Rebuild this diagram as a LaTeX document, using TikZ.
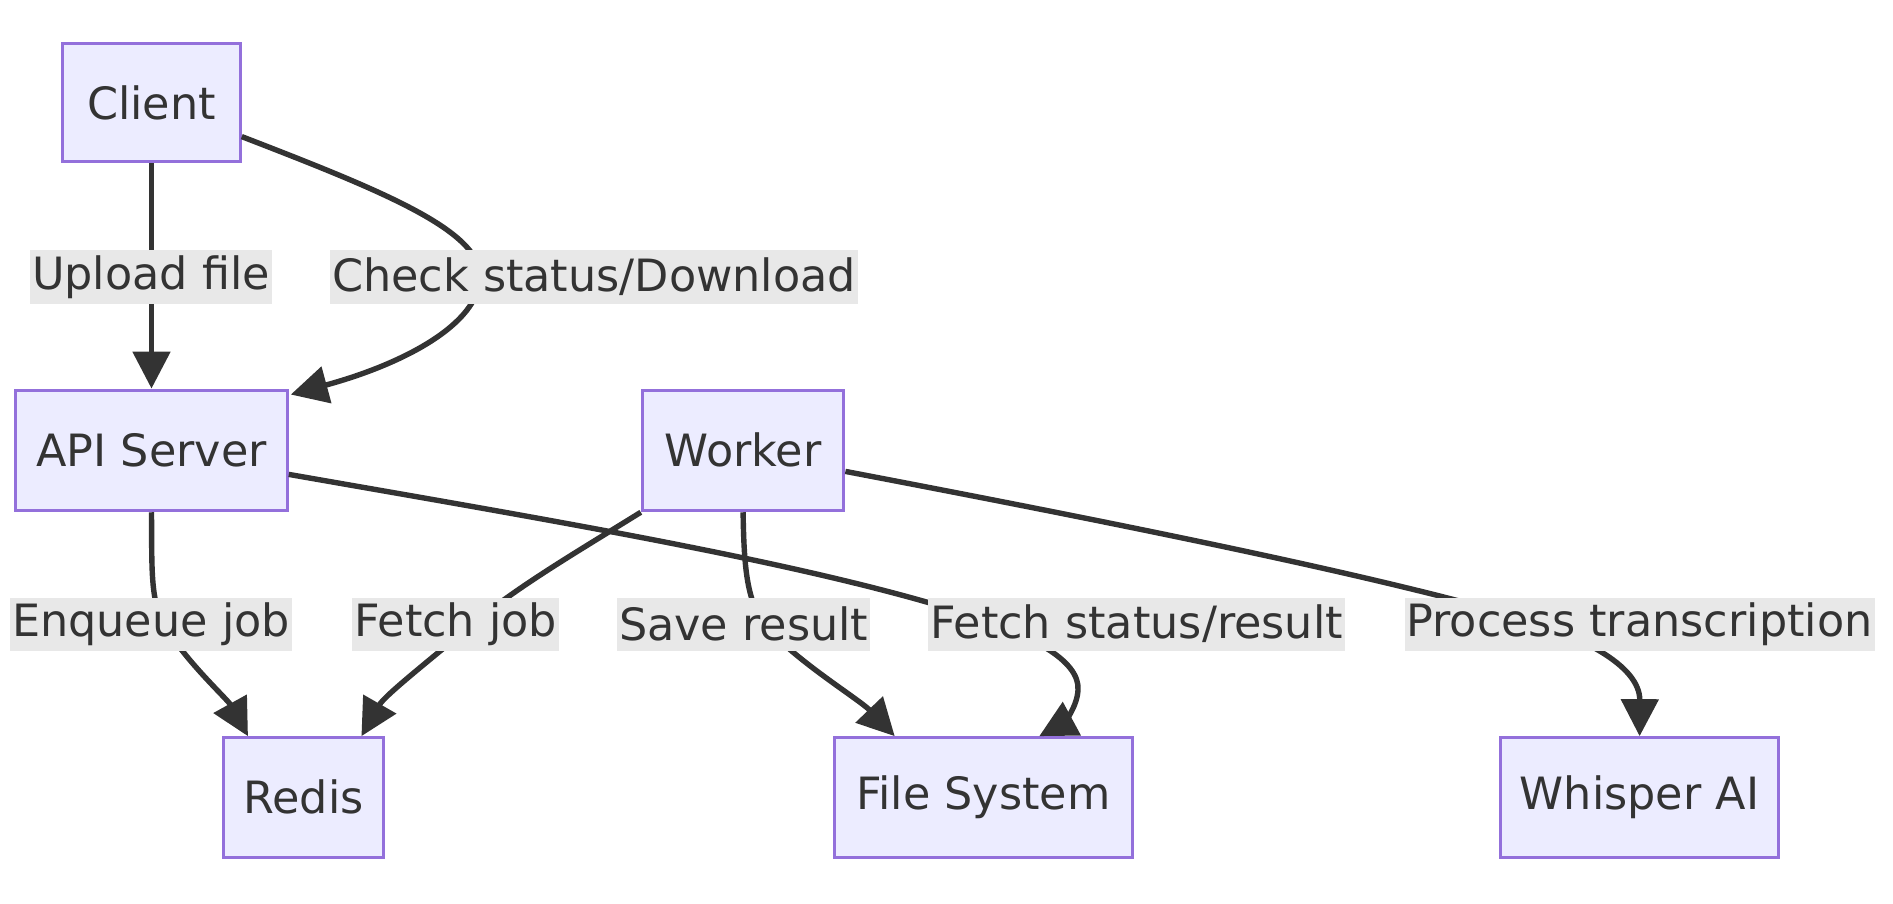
\documentclass[tikz,border=0pt]{standalone}
\usepackage{fontspec}
\setmainfont{DejaVu Sans}
\usetikzlibrary{arrows.meta,calc}
\definecolor{nodefill}{HTML}{ECECFF}
\definecolor{nodeline}{HTML}{9370DB}
\definecolor{ink}{HTML}{333333}
\definecolor{lblbg}{HTML}{E8E8E8}
\newcommand\lblfont{\fontsize{44.5}{53}\selectfont}
\begin{document}
\begin{tikzpicture}[x=1pt,y=-1pt,
  box/.style={draw=nodeline, fill=nodefill, line width=3pt, rectangle, inner sep=0pt, text=ink, font=\lblfont},
  lbl/.style={fill=lblbg, inner xsep=2pt, inner ysep=0pt, minimum height=53pt, text=ink, font=\lblfont},
  edge/.style={draw=ink, line width=5.4pt, -{Triangle[length=37pt,width=37pt]}}]
\useasboundingbox (0,0) rectangle (1893,904);
% nodes
\node[box, minimum width=177.5pt, minimum height=118.3pt] (client) at (151.5,102.6) {Client};
\node[box, minimum width=271.6pt, minimum height=120.7pt] (api) at (151.5,450.4) {API Server};
\node[box, minimum width=201.6pt, minimum height=120.7pt] (worker) at (743.1,450.4) {Worker};
\node[box, minimum width=160.5pt, minimum height=119.5pt] (redis) at (303.7,797.4) {Redis};
\node[box, minimum width=298.2pt, minimum height=119.5pt] (fs) at (983.3,797.4) {File System};
\node[box, minimum width=277.7pt, minimum height=119.5pt] (whisper) at (1639.6,797.4) {Whisper AI};
% edges
\draw[edge] (client.south) -- (api.north);
\draw[edge] ($(client.east)+(0,34)$) .. controls (380,190) and (480,230) .. (480,276)
  .. controls (480,325) and (400,365) .. ($(api.north east)+(2,6)$);
\draw[edge] (api.south) .. controls (152,575) and (150,605) .. (168,630)
  .. controls (185,660) and (228,700) .. ($(redis.north west)+(26,0)$);
\draw[edge] (worker.south west) .. controls (580,550) and (520,585) .. (475,622)
  .. controls (430,660) and (385,695) .. ($(redis.north east)+(-24,0)$);
\draw[edge] (worker.south) .. controls (744,575) and (748,605) .. (768,628)
  .. controls (795,660) and (860,700) .. ($(fs.north west)+(62,0)$);
\draw[edge] ($(api.east)+(0,24)$) .. controls (550,520) and (800,562) .. (960,612)
  .. controls (1030,634) and (1080,660) .. (1078,690)
  .. controls (1077,710) and (1060,725) .. ($(fs.north)+(56,0)$);
\draw[edge] ($(worker.east)+(0,21)$) .. controls (1100,520) and (1350,570) .. (1500,612)
  .. controls (1580,634) and (1640,665) .. (whisper.north);
% labels
\node[lbl] (lupload) at (151,277) {Upload file};
\node[lbl] (lcheck) at (594,277) {Check status/Download};
\node[lbl] (lenq) at (151,624) {Enqueue job};
\node[lbl] (lfetch) at (455.8,624) {Fetch job};
\node[lbl] (lsave) at (743.7,624) {Save result};
\node[lbl] (lstatus) at (1136.7,624) {Fetch status/result};
\node[lbl] (lproc) at (1639.5,624) {Process transcription};
\end{tikzpicture}
\end{document}
